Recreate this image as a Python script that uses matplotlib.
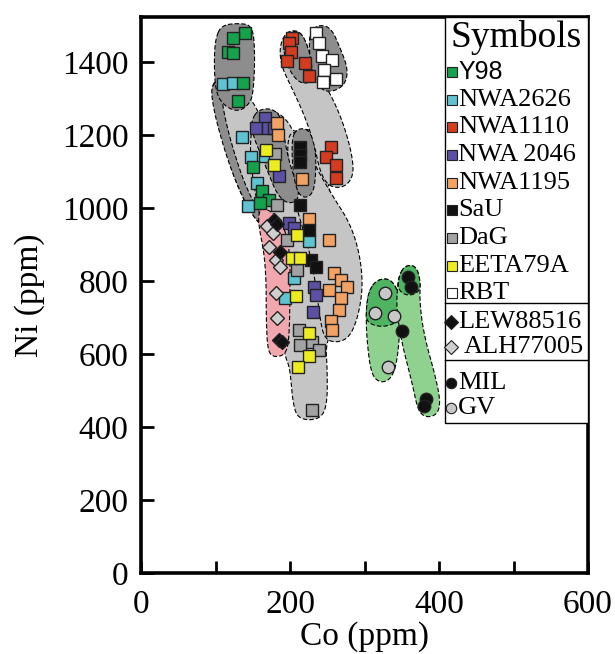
import numpy as np
import matplotlib
matplotlib.use("Agg")
import matplotlib.pyplot as plt
from matplotlib.patches import Polygon, Rectangle
from matplotlib.lines import Line2D

plt.rcParams['font.family'] = ['Liberation Serif', 'DejaVu Serif']

# ---------------- data: Co (ppm), Ni (ppm) ----------------
y98_co = [140, 123, 117, 124, 137, 130, 150, 163, 172, 160]
y98_ni = [1480, 1465, 1428, 1425, 1343, 1292, 1113, 1045, 1022, 1014]

nwa2626_co = [110, 124, 135, 148, 167, 156, 143, 226, 205, 193]
nwa2626_ni = [1340, 1343, 1195, 1140, 1141, 1068, 1004, 908, 807, 753]

nwa1110_co = [203, 198, 201, 196, 220, 226, 255, 248, 262, 262]
nwa1110_ni = [1465, 1451, 1428, 1401, 1396, 1360, 1168, 1140, 1118, 1081]

nwa2046_co = [166, 154, 171, 178, 185, 199, 205, 232, 235, 231]
nwa2046_ni = [1246, 1218, 1218, 1218, 1086, 958, 944, 784, 762, 716]

nwa1195_co = [183, 184, 216, 226, 253, 259, 268, 277, 253, 268, 266, 255, 256]
nwa1195_ni = [1232, 1200, 1079, 969, 912, 821, 803, 784, 775, 753, 720, 689, 666]

sau_co = [213, 213, 213, 214, 225, 228, 235]
sau_ni = [1168, 1145, 1125, 1008, 940, 858, 838]

dag_co = [180, 183, 196, 210, 212, 230, 239, 214, 230]
dag_ni = [1148, 1008, 912, 830, 666, 634, 611, 625, 447]

eeta_co = [168, 178, 210, 203, 213, 208, 225, 225, 211]
eeta_ni = [1159, 1118, 926, 862, 862, 759, 657, 595, 564]

rbt_co = [235, 239, 243, 257, 245, 262, 244]
rbt_ni = [1480, 1451, 1415, 1404, 1378, 1353, 1346]

lew_co = [178, 182, 187, 185, 189]
lew_ni = [967, 955, 880, 638, 634]

alh_co = [169, 177, 172, 181, 187, 181, 183]
alh_ni = [949, 931, 894, 858, 839, 766, 698]

mil_co = [358, 363, 350, 383, 380]
mil_ni = [812, 784, 664, 476, 456]

gv_co = [328, 314, 339, 331]
gv_ni = [766, 713, 704, 565]

# ---------------- field outlines (Co, Ni vertices) ----------------
field_left_co = [95, 102, 118, 152, 168, 180, 192, 188, 170, 155, 138, 122, 108, 97]
field_left_ni = [1335, 1350, 1345, 1295, 1200, 1100, 1000, 945, 935, 965, 1020, 1100, 1200, 1290]

strip_left_co = [95, 100, 106, 112, 125, 142, 165, 158, 138, 118, 102, 95]
strip_left_ni = [1330, 1345, 1335, 1250, 1150, 1050, 965, 955, 1020, 1120, 1230, 1300]

field_y98_co = [100, 108, 130, 150, 153, 151, 146, 130, 110, 100, 98]
field_y98_ni = [1465, 1500, 1506, 1500, 1420, 1320, 1285, 1262, 1282, 1320, 1400]

field_mid_co = [150, 160, 182, 198, 205, 225, 240, 248, 258, 268, 272, 268, 262, 255,
                248, 250, 250, 240, 212, 204, 200, 194, 188, 186, 182, 168, 158, 150, 146]
field_mid_ni = [1245, 1268, 1265, 1235, 1205, 1220, 1185, 1100, 1000, 920, 860, 790, 720, 660,
                620, 560, 460, 420, 420, 460, 560, 590, 650, 750, 850, 930, 990, 1080, 1160]

field_or_co = [200, 215, 235, 258, 280, 293, 298, 292, 280, 262, 246, 240, 234, 224, 210, 200, 196]
field_or_ni = [1210, 1200, 1110, 1030, 960, 880, 790, 705, 645, 630, 642, 700, 800, 900, 990, 1080, 1160]

field_2046_co = [148, 158, 178, 190, 193, 201, 212, 210, 195, 182, 172, 160, 150]
field_2046_ni = [1240, 1270, 1272, 1240, 1180, 1110, 1050, 1018, 1012, 1040, 1090, 1150, 1200]

field_sau_co = [202, 210, 226, 235, 234, 226, 212, 204]
field_sau_ni = [1190, 1218, 1215, 1160, 1060, 1028, 1032, 1090]

field_tail_co = [186, 196, 214, 224, 236, 255, 272, 284, 285, 272, 252, 240, 232, 218, 202, 188]
field_tail_ni = [1445, 1485, 1485, 1440, 1370, 1310, 1230, 1140, 1085, 1055, 1058, 1100, 1180, 1260, 1330, 1390]

field_1110_co = [190, 196, 212, 222, 232, 228, 212, 198]
field_1110_ni = [1440, 1480, 1485, 1455, 1380, 1342, 1342, 1380]

field_rbt_co = [226, 238, 255, 267, 278, 274, 258, 242, 232, 226]
field_rbt_ni = [1480, 1502, 1494, 1440, 1380, 1338, 1318, 1322, 1360, 1420]

field_pink_co = [158, 165, 178, 192, 200, 200, 199, 195, 180, 170, 168, 168, 165, 158]
field_pink_ni = [990, 1000, 985, 950, 880, 760, 650, 600, 590, 605, 700, 800, 880, 950]

field_gv_co = [306, 318, 336, 347, 348, 344, 336, 322, 309, 303, 302]
field_gv_ni = [775, 805, 805, 762, 680, 580, 532, 520, 542, 640, 720]

field_gv_top_co = [306, 318, 336, 347, 348, 325, 303, 302]
field_gv_top_ni = [775, 805, 805, 762, 690, 672, 685, 720]

field_mil_co = [346, 354, 369, 375, 374, 380, 395, 402, 398, 384, 372, 364, 350, 343, 344]
field_mil_ni = [812, 842, 842, 800, 740, 650, 540, 470, 435, 425, 442, 520, 630, 720, 780]

field_mil_top_co = [346, 354, 369, 375, 374, 358, 345]
field_mil_top_ni = [812, 842, 842, 800, 770, 758, 775]

# legend entries
legend_labels = ["Y98", "NWA2626", "NWA1110", "NWA 2046", "NWA1195", "SaU", "DaG",
                 "EETA79A", "RBT", "LEW88516", "ALH77005", "MIL", "GV"]

DARK = "#8d8d8d"
LIGHT = "#c5c5c5"


def chaikin(xs, ys, n=3):
    pts = np.column_stack([xs, ys]).astype(float)
    for _ in range(n):
        nxt = np.roll(pts, -1, axis=0)
        q = 0.75 * pts + 0.25 * nxt
        r = 0.25 * pts + 0.75 * nxt
        pts = np.empty((2 * len(q), 2))
        pts[0::2] = q
        pts[1::2] = r
    return pts


def field(ax, xs, ys, color, z):
    pts = chaikin(xs, ys)
    ax.add_patch(Polygon(pts, closed=True, facecolor=color, edgecolor="black",
                         linewidth=0.8, linestyle=(0, (4, 2)), zorder=z))


fig = plt.figure(figsize=(6.15, 6.54), dpi=100)
ax = fig.add_axes([0.2293, 0.1239, 0.7268, 0.8502])

field(ax, field_left_co, field_left_ni, LIGHT, 1)
field(ax, strip_left_co, strip_left_ni, DARK, 1.1)
field(ax, field_y98_co, field_y98_ni, DARK, 1.2)
field(ax, field_mid_co, field_mid_ni, LIGHT, 1.3)
field(ax, field_or_co, field_or_ni, LIGHT, 1.35)
field(ax, field_2046_co, field_2046_ni, DARK, 1.4)
field(ax, field_sau_co, field_sau_ni, DARK, 1.45)
field(ax, field_tail_co, field_tail_ni, LIGHT, 1.5)
field(ax, field_1110_co, field_1110_ni, DARK, 1.55)
field(ax, field_rbt_co, field_rbt_ni, DARK, 1.6)
field(ax, field_pink_co, field_pink_ni, "#f2a6ae", 1.7)
field(ax, field_gv_co, field_gv_ni, "#8fd28f", 1.8)
field(ax, field_gv_top_co, field_gv_top_ni, "#4fb462", 1.85)
field(ax, field_mil_co, field_mil_ni, "#8fd28f", 1.9)
field(ax, field_mil_top_co, field_mil_top_ni, "#4fb462", 1.95)

sq = dict(linestyle="none", marker="s", ms=8, mec="#222222", mew=1.0, zorder=5)
ax.plot(nwa2626_co, nwa2626_ni, mfc="#5fc3d2", **sq)
ax.plot(y98_co, y98_ni, mfc="#14a24c", **sq)
ax.plot(nwa1110_co, nwa1110_ni, mfc="#d43c22", **sq)
ax.plot(nwa2046_co, nwa2046_ni, mfc="#5b50a3", **sq)
ax.plot(nwa1195_co, nwa1195_ni, mfc="#f2a262", **sq)
ax.plot(dag_co, dag_ni, mfc="#a2a2a2", **sq)
ax.plot(sau_co, sau_ni, mfc="#111111", **sq)
ax.plot(eeta_co, eeta_ni, mfc="#ecec1e", **sq)
ax.plot(rbt_co, rbt_ni, mfc="white", **sq)

dm = dict(linestyle="none", marker="D", ms=7.5, mec="#222222", mew=1.0, zorder=5)
ax.plot(alh_co, alh_ni, mfc="#cfcfcf", **dm)
ax.plot(lew_co, lew_ni, mfc="#111111", **dm)

ci = dict(linestyle="none", marker="o", ms=9, mec="#222222", mew=1.0, zorder=5)
ax.plot(gv_co, gv_ni, mfc="#c8c8c8", **ci)
ax.plot(mil_co, mil_ni, mfc="#111111", **ci)

# axes styling
ax.set_xlim(0, 600)
ax.set_ylim(0, 1523)
ax.set_xticks(np.arange(0, 601, 100))
ax.set_xticklabels(["0", "", "200", "", "400", "", "600"])
ax.set_yticks(np.arange(0, 1401, 200))
ax.tick_params(direction="in", length=9, width=2, labelsize=24, pad=9,
               top=False, right=False)
ax.tick_params(axis="x", pad=12)
for s in ax.spines.values():
    s.set_linewidth(2.6)
ax.set_xlabel("Co (ppm)", fontsize=24, labelpad=1)
ax.set_ylabel("Ni (ppm)", fontsize=24, labelpad=12)

# symbol key box
def fx(px):
    return (px - 141) / 447.0


def fy(py):
    return (573 - py) / 556.0


box_l = fx(445)
ax.add_patch(Rectangle((box_l, fy(423)), 1 - box_l, 1 - fy(423), transform=ax.transAxes,
                       facecolor="white", edgecolor="black", linewidth=1.0, zorder=6))
for sep in (303, 360):
    ax.add_line(Line2D([box_l, 1], [fy(sep), fy(sep)], transform=ax.transAxes,
                       color="black", linewidth=1.0, zorder=7))
ax.text(fx(450), fy(38), "Symbols", transform=ax.transAxes, fontsize=27,
        va="center", ha="left", zorder=8)

key_rows = [71.7, 100, 126.7, 155, 183, 210, 238, 266, 293, 321.7, 346.7, 383, 408]
key_face = ["#14a24c", "#5fc3d2", "#d43c22", "#5b50a3", "#f2a262", "#111111", "#a2a2a2",
            "#ecec1e", "white", "#111111", "#cfcfcf", "#111111", "#c8c8c8"]
key_marker = ["s"] * 9 + ["D", "D", "o", "o"]
for lab, row, fc, mk in zip(legend_labels, key_rows, key_face, key_marker):
    ms = {"s": 6.5, "D": 7.5, "o": 7.5}[mk]
    mxp = 452 if mk == "s" else 451
    ax.plot([fx(mxp)], [fy(row)], marker=mk, ms=ms, mfc=fc, mec="#222222", mew=0.8,
            transform=ax.transAxes, clip_on=False, zorder=8, linestyle="none")
    tx = fx(464) if lab == "ALH77005" else fx(458)
    fam = ["Liberation Sans", "DejaVu Sans"] if lab == "Y98" else ["Liberation Serif", "DejaVu Serif"]
    ax.text(tx, fy(row), lab, transform=ax.transAxes, fontsize=19 if lab != "Y98" else 18,
            family=fam, va="center", ha="left", zorder=8)

fig.savefig("out.png", dpi=100)
